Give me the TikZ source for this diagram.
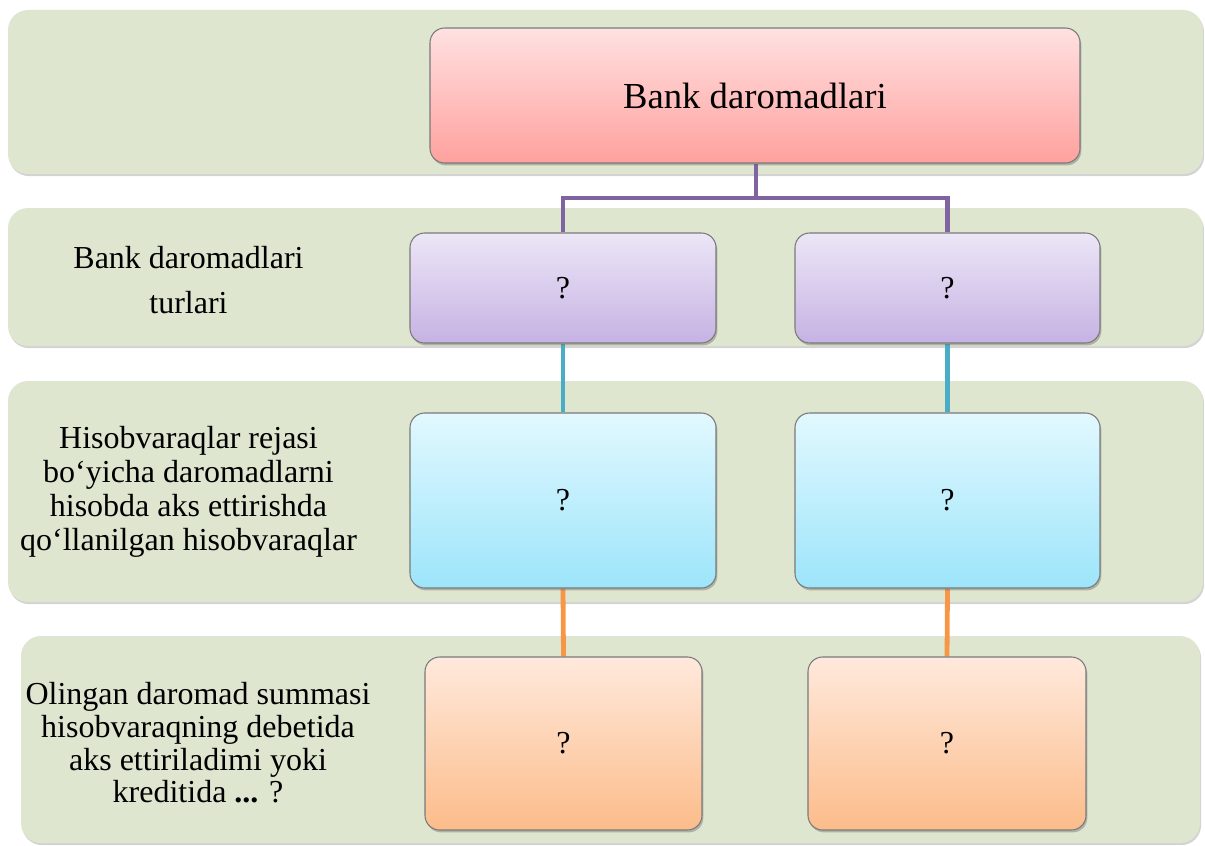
\documentclass[tikz,border=0pt]{standalone}
\usepackage{fontspec}
\setmainfont{Liberation Serif}
\usetikzlibrary{shadows}
\pgfdeclarelayer{bg}
\pgfdeclarelayer{mid}
\pgfsetlayers{bg,mid,main}
\definecolor{bandc}{HTML}{DEE6D0}
\definecolor{redT}{HTML}{FFE1E1}
\definecolor{redB}{HTML}{FEA19E}
\definecolor{purT}{HTML}{ECE6F7}
\definecolor{purB}{HTML}{C6B2E3}
\definecolor{bluT}{HTML}{E2F8FE}
\definecolor{bluB}{HTML}{9DE5FB}
\definecolor{oraT}{HTML}{FFE9DC}
\definecolor{oraB}{HTML}{FCBC8A}
\definecolor{pline}{HTML}{8064A2}
\definecolor{cline}{HTML}{4BACC6}
\definecolor{oline}{HTML}{F79646}
\definecolor{edgec}{HTML}{7A7A7A}
\tikzset{
  band/.style={fill=bandc, rounded corners=15pt, draw=none,
    drop shadow={shadow xshift=0.8pt, shadow yshift=-1.6pt, opacity=0.35, fill=black!50}},
  box/.style={rectangle, rounded corners=11pt, draw=edgec, line width=0.8pt,
    drop shadow={shadow xshift=1pt, shadow yshift=-1.8pt, opacity=0.4, fill=black!60},
    font=\fontsize{24}{28}\selectfont, inner sep=0pt},
  redbox/.style={box, top color=redT, bottom color=redB},
  purbox/.style={box, top color=purT, bottom color=purB},
  blubox/.style={box, top color=bluT, bottom color=bluB},
  orabox/.style={box, top color=oraT, bottom color=oraB},
  conn/.style={line width=3.6pt},
  lbl/.style={align=center, inner sep=0pt}
}
\begin{document}
\begin{tikzpicture}[x=0.75pt, y=-0.75pt]
\useasboundingbox (0,0) rectangle (1205,845);
% bands
\begin{pgfonlayer}{bg}
\path[band] (8,10) rectangle (1203,174);
\path[band] (8,208) rectangle (1203,346);
\path[band] (8,381) rectangle (1203,602);
\path[band] (21,636) rectangle (1200,843);
\end{pgfonlayer}
% boxes
\node[redbox, minimum width=0.75pt*650, minimum height=0.75pt*135,
  font=\fontsize{27.5}{32}\selectfont] (top) at (755,95.5) {Bank daromadlari};
\node[purbox, minimum width=0.75pt*306, minimum height=0.75pt*110] (p1) at (563,288) {?};
\node[purbox, minimum width=0.75pt*305, minimum height=0.75pt*110] (p2) at (947.5,288) {?};
\node[blubox, minimum width=0.75pt*306, minimum height=0.75pt*175] (b1) at (563,500.5) {?};
\node[blubox, minimum width=0.75pt*305, minimum height=0.75pt*175] (b2) at (947.5,500.5) {?};
\node[orabox, minimum width=0.75pt*277, minimum height=0.75pt*173] (o1) at (563.5,743.5) {?};
\node[orabox, minimum width=0.75pt*278, minimum height=0.75pt*173] (o2) at (947,743.5) {?};
% connectors
\coordinate (j) at (756,198);
\begin{pgfonlayer}{mid}
\draw[conn, pline] (top.south -| j) -- (j) -| (p1.north);
\draw[conn, pline] (j) -| (p2.north);
\draw[conn, cline] (p1.south) -- (b1.north);
\draw[conn, cline] (p2.south) -- (b2.north);
\draw[conn, oline] (b1.south) -- (o1.north);
\draw[conn, oline] (b2.south) -- (o2.north);
\end{pgfonlayer}
% left labels
\node[lbl, font=\fontsize{24}{33.75}\selectfont] (l2) at (188.5,280) {Bank daromadlari\\turlari};
\node[lbl, font=\fontsize{24}{25.5}\selectfont] (l3) at (188.5,492) {Hisobvaraqlar rejasi\\bo‘yicha daromadlarni\\hisobda aks ettirishda\\qo‘llanilgan hisobvaraqlar};
\node[lbl, font=\fontsize{24}{24.5}\selectfont] (l4) at (198,743) {Olingan daromad summasi\\hisobvaraqning debetida\\aks ettiriladimi yoki\\kreditida \textbf{...} ?};
\end{tikzpicture}
\end{document}
